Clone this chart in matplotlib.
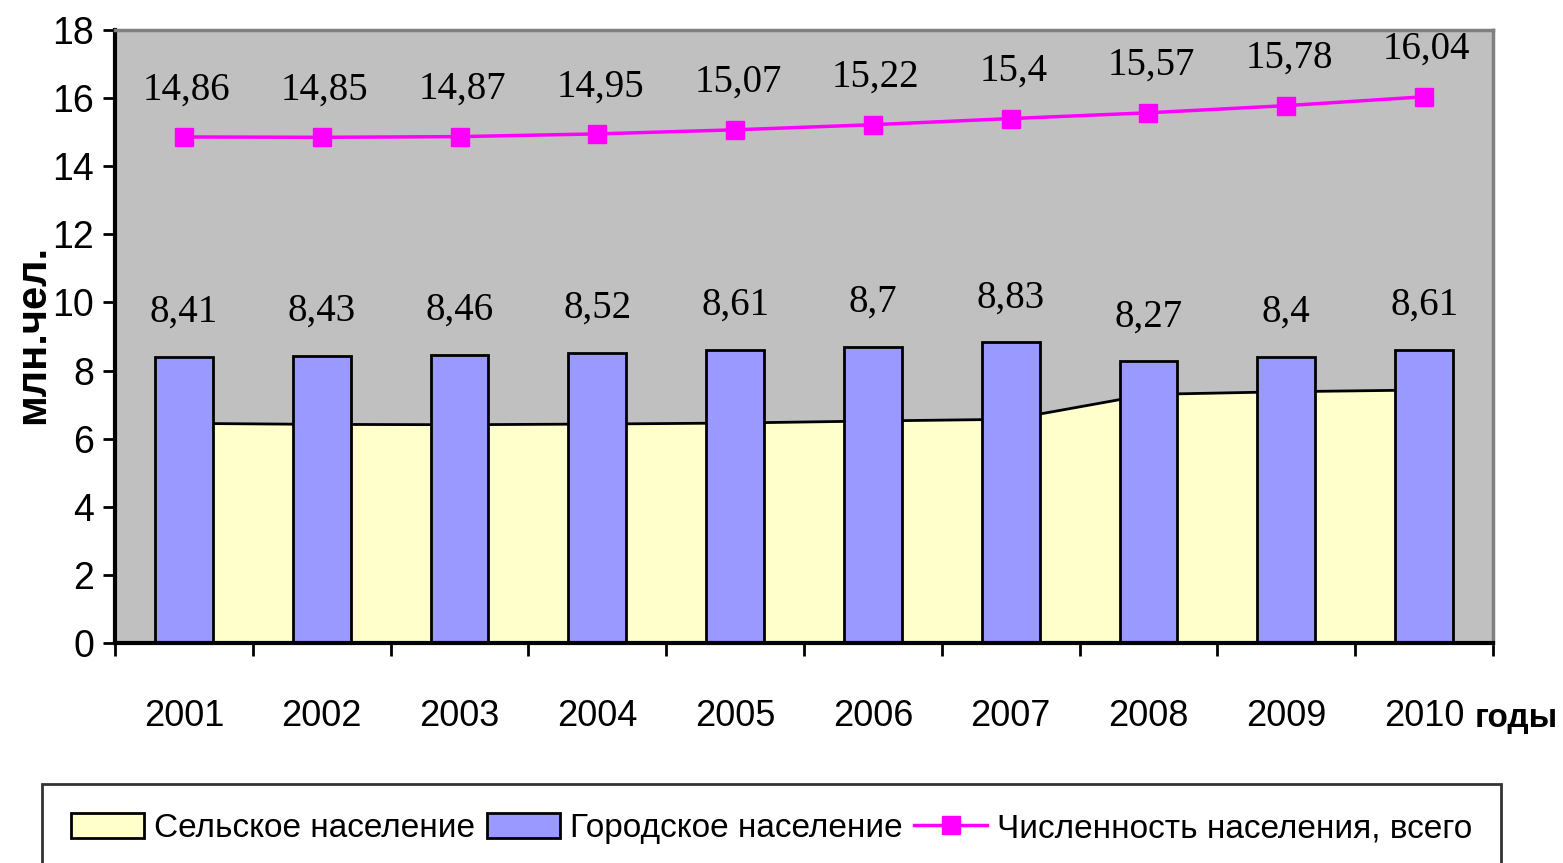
import matplotlib
matplotlib.use("Agg")
import matplotlib.pyplot as plt
from matplotlib.patches import Patch
from matplotlib.lines import Line2D
import numpy as np

years = ["2001", "2002", "2003", "2004", "2005", "2006", "2007", "2008", "2009", "2010"]
urban = [8.41, 8.43, 8.46, 8.52, 8.61, 8.70, 8.83, 8.27, 8.40, 8.61]
total = [14.86, 14.85, 14.87, 14.95, 15.07, 15.22, 15.40, 15.57, 15.78, 16.04]
rural = [6.45, 6.42, 6.41, 6.43, 6.46, 6.52, 6.57, 7.30, 7.38, 7.43]
urban_labels = ["8,41", "8,43", "8,46", "8,52", "8,61", "8,7", "8,83", "8,27", "8,4", "8,61"]
total_labels = ["14,86", "14,85", "14,87", "14,95", "15,07", "15,22", "15,4", "15,57", "15,78", "16,04"]

sans = ["Liberation Sans", "DejaVu Sans"]
serif = ["Liberation Serif", "DejaVu Serif"]
plt.rcParams["font.family"] = sans

fig = plt.figure(figsize=(15.63, 8.63), dpi=100)
ax = fig.add_axes([0.0736, 0.2549, 0.8816, 0.7103])
ax.set_facecolor("#C0C0C0")

x = np.arange(len(years))

# rural area sits behind the bars
ax.fill_between(x, 0, rural, color="#FFFFCC", zorder=1)
ax.plot(x, rural, color="black", lw=2, zorder=1.5)

# urban bars
ax.bar(x, urban, width=0.42, color="#9999FF", edgecolor="black", linewidth=2, zorder=2)

# total line
ax.plot(x, total, color="#FF00FF", lw=2.5, marker="s", markersize=13, zorder=3)

for xi, v, s in zip(x, urban, urban_labels):
    ax.annotate(s, (xi, v), xytext=(0, 32), textcoords="offset points",
                ha="center", va="center", fontsize=28, family=serif, zorder=4)
for xi, v, s in zip(x, total, total_labels):
    ax.annotate(s, (xi, v), xytext=(2, 34), textcoords="offset points",
                ha="center", va="center", fontsize=28, family=serif, zorder=4)

ax.set_xlim(-0.5, len(years) - 0.5)
ax.set_ylim(0, 18)
ax.set_yticks(range(0, 19, 2))
ax.set_xticks(x)
ax.set_xticklabels(years)
ax.set_xticks(np.arange(-0.5, len(years)), minor=True)
ax.tick_params(axis="x", which="major", length=0, pad=40, labelsize=26)
ax.tick_params(axis="x", which="minor", length=9, width=2, direction="out")
ax.tick_params(axis="y", length=9, width=2, pad=6, labelsize=27)

for side in ["left", "bottom"]:
    ax.spines[side].set_color("black")
    ax.spines[side].set_linewidth(3)
for side in ["top", "right"]:
    ax.spines[side].set_color("#808080")
    ax.spines[side].set_linewidth(2.5)

fig.text(0.021, 0.612, "млн.чел.", rotation=90, ha="center", va="center",
         fontsize=30, fontweight="bold")
fig.text(0.970, 0.168, "годы", ha="center", va="center",
         fontsize=24, fontweight="bold")

handles = [
    Patch(facecolor="#FFFFCC", edgecolor="black", linewidth=2),
    Patch(facecolor="#9999FF", edgecolor="black", linewidth=2),
    Line2D([], [], color="#FF00FF", lw=2.5, marker="s", markersize=13),
]
names = ["Сельское население", "Городское население", "Численность населения, всего"]
leg = fig.legend(handles, names, loc="upper left", bbox_to_anchor=(0.027, 0.091),
                 ncol=3, fontsize=24, frameon=True, fancybox=False, edgecolor="black",
                 handlelength=2.2, handleheight=0.8, handletextpad=0.3,
                 columnspacing=0.35, borderpad=0.85, borderaxespad=0)
leg.get_frame().set_linewidth(2)

fig.savefig("out.png", dpi=100)
